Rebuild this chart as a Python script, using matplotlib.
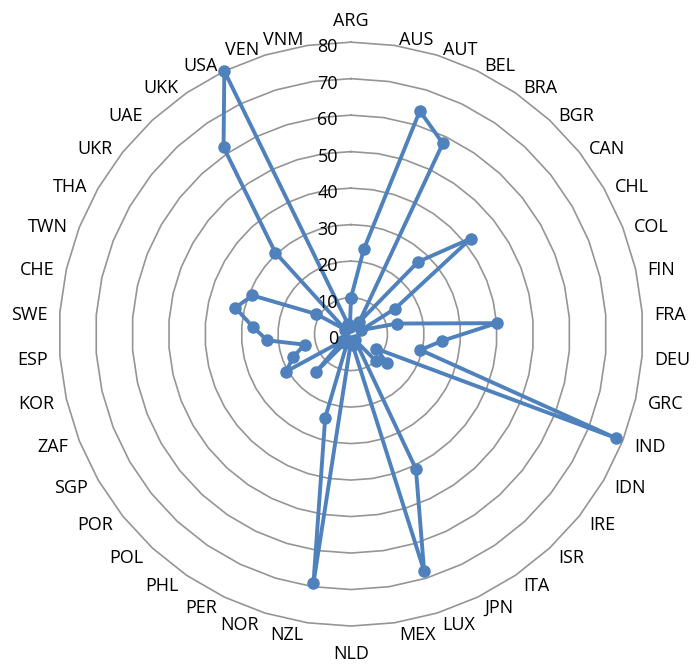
import numpy as np
import matplotlib
matplotlib.use("Agg")
import matplotlib.pyplot as plt
from matplotlib.transforms import offset_copy

categories = ["ARG", "AUS", "AUT", "BEL", "BRA", "BGR", "CAN", "CHL", "COL", "FIN",
              "FRA", "DEU", "GRC", "IND", "IDN", "IRE", "ISR", "ITA", "JPN", "LUX",
              "MEX", "NLD", "NZL", "NOR", "PER", "PHL", "POL", "POR", "SGP", "ZAF",
              "KOR", "ESP", "SWE", "CHE", "TWN", "THA", "UKR", "UAE", "UKK", "USA",
              "VEN", "VNM"]
values = [10, 23.5, 64, 58, 4, 27, 42, 14, 3, 13,
          40, 25, 19.5, 78, 8, 12.5, 10, 2, 41, 68,
          3, 2, 69, 24, 2, 3, 14, 3, 20.5, 17,
          13, 23, 27, 32.5, 29, 11, 2, 30.5, 62, 80,
          3, 2]
ring_levels = [0, 10, 20, 30, 40, 50, 60, 70, 80]
ring_labels = ["0", "10", "20", "30", "40", "50", "60", "70", "80"]

FONT = ["Open Sans", "DejaVu Sans"]
plt.rcParams["font.family"] = FONT

fig = plt.figure(figsize=(6.96, 6.65), dpi=100)
ax = fig.add_axes([0.0848, 0.0586, 0.839, 0.878], projection="polar")
ax.set_theta_zero_location("N")
ax.set_theta_direction(-1)
ax.set_ylim(0, 80)
ax.grid(False)
ax.set_xticks([])
ax.set_yticks([])
ax.spines["polar"].set_visible(False)
ax.patch.set_visible(False)

n = len(categories)
theta = np.arange(n) * 2 * np.pi / n
theta_closed = np.append(theta, theta[0])

# polygon rings
for lv in ring_levels[1:]:
    ax.plot(theta_closed, [lv] * (n + 1), color="#959595", lw=1.2, zorder=1,
            clip_on=False)

# series
vals_closed = values + [values[0]]
ax.plot(theta_closed, vals_closed, color="#4F81BD", lw=2.8, marker="o",
        markersize=8, zorder=3, clip_on=False)

# radial labels
lab_tr = offset_copy(ax.transData, fig=fig, x=-13, y=-5, units="dots")
for lv, lab in zip(ring_levels, ring_labels):
    ax.text(0, lv, lab, transform=lab_tr, ha="right", va="center",
            fontsize=13, color="#000000", zorder=4)

# category labels
for t, c in zip(theta, categories):
    s, co = np.sin(t), np.cos(t)
    if abs(s) < 0.01:
        ha = "center"
        va = "bottom" if co > 0 else "top"
        dx, dy = 0, (12 if co > 0 else -19)
    else:
        ha = "left" if s > 0 else "right"
        va = "center"
        d = 9
        dx = d * s + (3 if s > 0 else -3)
        dy = d * co - 3
    tr = offset_copy(ax.transData, fig=fig, x=dx, y=dy, units="dots")
    ax.text(t, 80, c, transform=tr, ha=ha, va=va,
            fontsize=13, color="#000000")

fig.savefig("out.png", dpi=100)
